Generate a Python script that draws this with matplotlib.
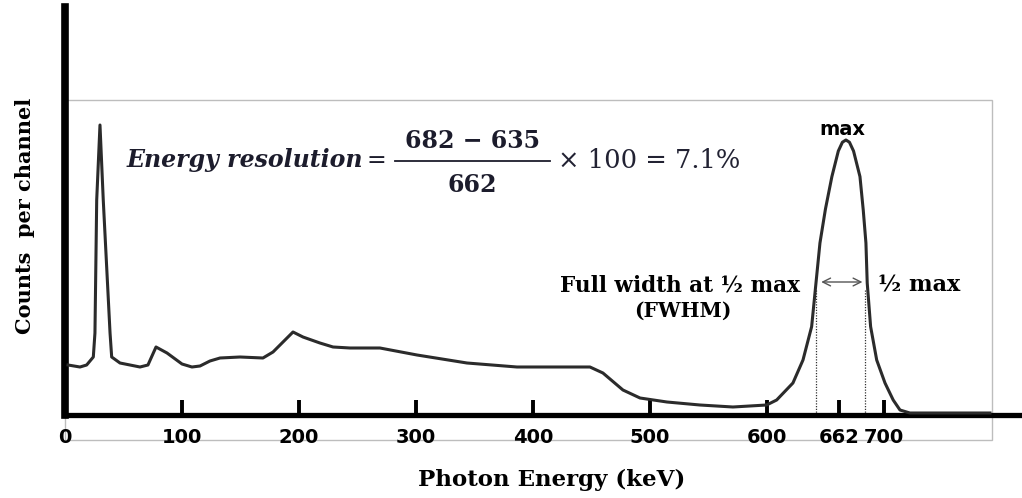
import matplotlib
matplotlib.use("Agg")
import matplotlib.pyplot as plt
from matplotlib.patches import Rectangle

# spectrum (keV, relative counts)
energy = [2.6, 12.8, 18.5, 24.2, 25.6, 27.1, 29.9, 32.7, 38.5, 39.9, 47.0, 64.1, 70.9, 77.8, 87.2,
          100.0, 108.5, 115.4, 123.9, 132.5, 149.6, 169.2, 177.8, 194.9, 203.4, 217.9, 229.1,
          243.6, 269.2, 300.9, 343.6, 386.3, 448.7, 459.8, 476.9, 491.5, 514.5, 542.7, 570.9,
          599.7, 608.3, 622.2, 630.8, 638.2, 641.9, 645.3, 650.0, 655.5, 661.0, 664.5, 667.5,
          670.5, 674.0, 679.5, 682.3, 684.6, 685.7, 688.6, 693.8, 700.9, 707.9, 713.7, 722.2,
          741.9, 790.6]
counts = [12.5, 12.0, 12.5, 14.5, 20.5, 53.75, 72.5, 53.75, 20.5, 14.5, 13.0, 12.0, 12.5, 17.0, 15.5,
          12.75, 12.0, 12.25, 13.5, 14.25, 14.5, 14.25, 15.75, 20.75, 19.5, 18.0, 17.0,
          16.75, 16.75, 15.0, 13.0, 12.0, 12.0, 10.5, 6.25, 4.25, 3.25, 2.5, 2.0,
          2.5, 3.75, 8.0, 13.75, 22.1, 33.0, 43.0, 51.5, 59.6, 66.0, 68.2, 68.75,
          68.2, 66.0, 59.6, 51.25, 43.0, 33.0, 22.1, 13.75, 8.0, 3.75, 1.25, 0.5,
          0.5, 0.5]

tick_values = [0, 100, 200, 300, 400, 500, 600, 662, 700]
tick_labels = ['0', '100', '200', '300', '400', '500', '600', '662', '700']

fwhm_lo = 642
fwhm_hi = 684
half_max = 33.25
peak_e = 664.7

fig = plt.figure(figsize=(10.22, 4.98), dpi=100)
ax = fig.add_axes([65 / 1022, 83 / 498, 957 / 1022, 408 / 498])
ax.set_xlim(0, 818)
ax.set_ylim(0, 102)

# grey frame around the plot area
ax.add_patch(Rectangle((0, -6.25), 792, 85, fill=False, edgecolor='#bdbdbd', lw=1,
                       clip_on=False, zorder=0))

ax.plot(energy, counts, color='#2b2b2b', lw=2.2, solid_joinstyle='round', zorder=3)

for e in [fwhm_lo, fwhm_hi]:
    ax.plot([e, e], [0, 31.5], color='#333333', lw=0.9, ls=(0, (1, 1.2)), zorder=2)

ax.annotate('', xy=(fwhm_lo + 2, half_max), xytext=(fwhm_hi, half_max),
            arrowprops=dict(arrowstyle='<->', color='#555555', lw=1.0, mutation_scale=14))

for s in ['top', 'right']:
    ax.spines[s].set_visible(False)
ax.spines['left'].set_linewidth(5.5)
ax.spines['bottom'].set_linewidth(3.8)
ax.set_yticks([])
ax.set_xticks(tick_values)
ax.set_xticklabels(tick_labels, fontfamily='DejaVu Sans', fontweight='bold', fontsize=14)
ax.tick_params(axis='x', direction='in', length=11, width=2.8, pad=9)

serif = 'DejaVu Serif'
ax.text(peak_e, 71.5, 'max', ha='center', va='center', fontfamily='DejaVu Sans',
        fontweight='bold', fontsize=14)
ax.text(628, 32.5, 'Full width at \u00bd max', ha='right', va='center', fontfamily=serif,
        fontweight='bold', fontsize=15.5)
ax.text(528, 26, '(FWHM)', ha='center', va='center', fontfamily=serif,
        fontweight='bold', fontsize=14.5)
ax.text(695, 32.5, '\u00bd max', ha='left', va='center', fontfamily=serif,
        fontweight='bold', fontsize=16)

# equation, laid out piece by piece
eq_col = '#1c1c2c'
ax.text(53, 63.75, 'Energy resolution', ha='left', va='center', fontfamily=serif,
        fontweight='bold', fontstyle='italic', fontsize=17, color=eq_col)
ax.text(266.5, 63.75, '=', ha='center', va='center', fontfamily=serif, fontsize=17, color=eq_col)
ax.text(348, 68.6, '682 \u2212 635', ha='center', va='center', fontfamily=serif,
        fontweight='bold', fontsize=17, color=eq_col)
ax.plot([282, 414.5], [63.5, 63.5], color=eq_col, lw=1.3)
ax.text(348, 57.5, '662', ha='center', va='center', fontfamily=serif,
        fontweight='bold', fontsize=17, color=eq_col)
ax.text(421.4, 63.75, '\u00d7 100 = 7.1%', ha='left', va='center', fontfamily=serif,
        fontsize=18.5, color='#222233')

fig.text(25 / 1022, 1 - 216 / 498, 'Counts  per channel', rotation=90, ha='center',
         va='center', fontfamily=serif, fontweight='bold', fontsize=15)
fig.text(552 / 1022, 1 - 480 / 498, 'Photon Energy (keV)', ha='center', va='center',
         fontfamily=serif, fontweight='bold', fontsize=16.5)

fig.savefig('out.png', dpi=100)
